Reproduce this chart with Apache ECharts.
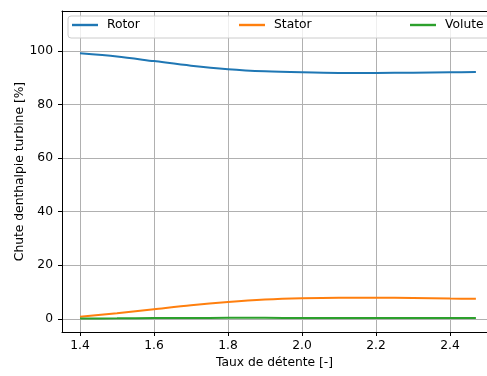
<!DOCTYPE html>
<html>
<head>
<meta charset="utf-8">
<script src="https://cdn.jsdelivr.net/npm/echarts@6/dist/echarts.min.js"></script>
<style>
html,body{margin:0;padding:0;background:#fff;}
#main{width:487px;height:376px;}
</style>
</head>
<body>
<div id="main"></div>
<script>
// taux de detente
var xData = [1.40, 1.50, 1.60, 1.70, 1.80, 1.90, 2.00, 2.10, 2.20, 2.30, 2.40, 2.47];
var rotor = [99.1, 97.9, 96.2, 94.5, 93.2, 92.4, 92.0, 91.8, 91.8, 91.9, 92.0, 92.1];
var stator = [0.8, 2.1, 3.6, 5.1, 6.3, 7.2, 7.7, 7.9, 7.9, 7.8, 7.6, 7.5];
var volute = [0.1, 0.2, 0.3, 0.3, 0.4, 0.4, 0.3, 0.3, 0.3, 0.3, 0.3, 0.3];
var xTicks = [1.4, 1.6, 1.8, 2.0, 2.2, 2.4];
var yTicks = [0, 20, 40, 60, 80, 100];
var names = ['Rotor', 'Stator', 'Volute'];
var colors = ['#1f77b4', '#ff7f0e', '#2ca02c'];

function pairs(ys){
	return xData.map(function(x, i){ return [x, ys[i]]; });
}

var font = 'DejaVu Sans';
var fs = 12.3;
var chart = echarts.init(document.getElementById('main'));

function legendItem(name, left){
	return {
		data: [name],
		left: left,
		top: 19,
		itemWidth: 26,
		itemHeight: 14,
		itemGap: 0,
		padding: 0,
		icon: 'path://M0,5.8 L26,5.8 L26,8.2 L0,8.2 Z',
		textStyle: {fontFamily: font, fontSize: fs, color: '#000', padding: [0, 0, 0, 4]}
	};
}

var option = {
	backgroundColor: '#fff',
	animation: false,
	color: colors,
	// figure is cut on the right: x max sits on the canvas edge
	grid: {left: 62, top: 11, bottom: 44, right: 0},
	graphic: [{
		type: 'rect',
		shape: {x: 68, y: 16, width: 430, height: 22, r: 3},
		style: {fill: 'rgba(255,255,255,0.8)', stroke: '#cccccc', lineWidth: 1},
		z: 3
	}],
	legend: [legendItem('Rotor', 72), legendItem('Stator', 239), legendItem('Volute', 410)],
	xAxis: [{
		type: 'value',
		min: 1.3514, max: 2.5,
		name: 'Taux de détente [-]',
		nameLocation: 'middle',
		nameGap: 25,
		nameTextStyle: {fontFamily: font, fontSize: fs, color: '#000'},
		axisLine: {onZero: false, lineStyle: {color: '#000'}},
		axisTick: {customValues: xTicks, length: 4, lineStyle: {color: '#000'}},
		axisLabel: {customValues: xTicks, fontFamily: font, fontSize: fs, color: '#000', margin: 8,
			formatter: function(v){ return v.toFixed(1); }},
		splitLine: {show: true, lineStyle: {color: '#b0b0b0', width: 1}}
	}, {
		type: 'value',
		position: 'top',
		min: 1.3514, max: 2.5,
		axisLine: {show: true, onZero: false, lineStyle: {color: '#000'}},
		axisTick: {show: false},
		axisLabel: {show: false},
		splitLine: {show: false}
	}],
	yAxis: {
		type: 'value',
		min: -4.9, max: 114.9,
		name: 'Chute denthalpie turbine [%]',
		nameLocation: 'middle',
		nameGap: 36,
		nameMoveOverlap: false,
		nameTextStyle: {fontFamily: font, fontSize: fs, color: '#000'},
		axisLine: {show: true, onZero: false, lineStyle: {color: '#000'}},
		axisTick: {show: true, customValues: yTicks, length: 4, lineStyle: {color: '#000'}},
		axisLabel: {customValues: yTicks, fontFamily: font, fontSize: fs, color: '#000', margin: 9},
		splitLine: {show: true, lineStyle: {color: '#b0b0b0', width: 1}}
	},
	series: names.map(function(n, i){
		return {
			name: n,
			type: 'line',
			data: pairs([rotor, stator, volute][i]),
			smooth: 0.3,
			showSymbol: false,
			lineStyle: {width: 2, color: colors[i]},
			itemStyle: {color: colors[i]},
			z: 2
		};
	})
};
chart.setOption(option);
</script>
</body>
</html>
